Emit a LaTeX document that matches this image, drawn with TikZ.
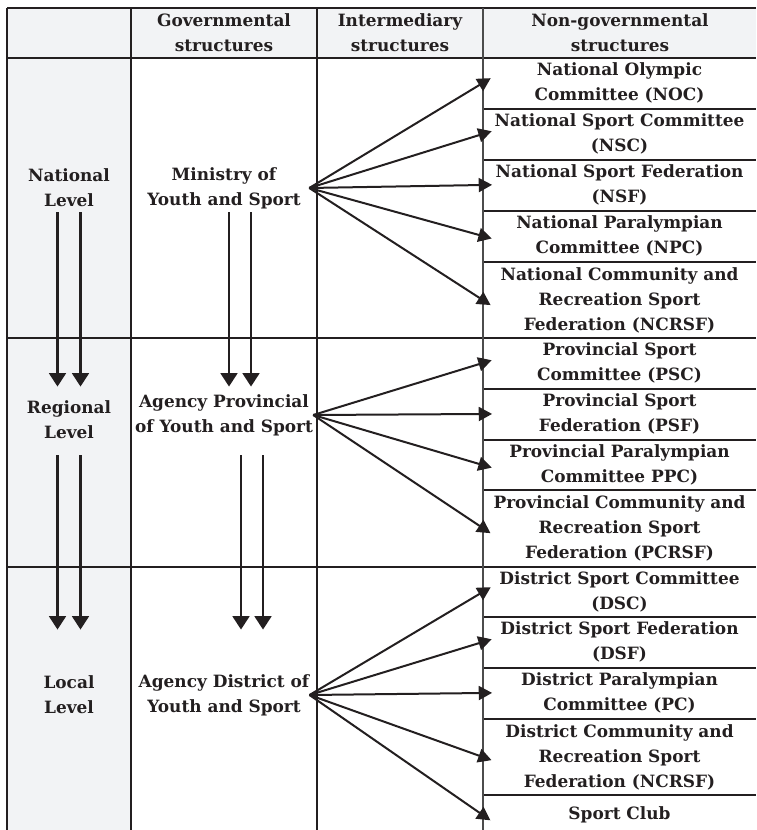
\documentclass[tikz,border=0pt]{standalone}
\usepackage{fontspec}
\setmainfont{DejaVu Serif}
\usetikzlibrary{arrows.meta,calc}
\definecolor{cellgray}{HTML}{F2F3F5}
\definecolor{ink}{HTML}{231F20}
\begin{document}
\begin{tikzpicture}[x=0.75pt, y=-0.75pt, >={Triangle[length=10pt,width=10.5pt]},
  every node/.style={font=\bfseries\fontsize{12.7}{18.75}\selectfont, text=ink, align=center, inner sep=0pt},
  lvl/.style={minimum height=34pt},
  gov/.style={minimum height=34pt, minimum width=127.5pt},
  cell/.style={minimum width=204.75pt},
  fan/.style={->, draw=ink, line width=1.5pt, shorten >=-7pt},
  down/.style={->, draw=ink, line width=1.8pt, >={Triangle[length=10pt,width=12.5pt]}}]
\useasboundingbox (0,0) rectangle (756,830);
% shading
\fill[cellgray] (7,8) rectangle (756,58);
\fill[cellgray] (7,58) rectangle (131,830);
% rules
\foreach \y in {8,58,338,567}
  \draw[ink, line width=0.8pt] (7,\y) -- (756,\y);
\foreach \y in {109,160,211,262,389,440,490,617,668,719,795}
  \draw[ink, line width=0.8pt] (483,\y) -- (756,\y);
\draw[ink, line width=0.8pt] (7,8) -- (7,830);
\draw[ink, line width=2pt] (131,8) -- (131,830);
\draw[ink, line width=1.7pt] (317,8) -- (317,830);
\draw[black!70, line width=1.7pt] (483,8) -- (483,830);
% header
\node (hgov) at (224,33) {Governmental\\structures};
\node (hint) at (400,33) {Intermediary\\structures};
\node (hnon) at (620,33) {Non-governmental\\structures};
% levels
\node[lvl] (nat) at (69,188) {National\\Level};
\node[lvl] (reg) at (69,420) {Regional\\Level};
\node[lvl] (loc) at (69,695) {Local\\Level};
% governmental structures
\node[gov] (min) at (224,188) {Ministry of\\Youth and Sport};
\node[gov] (prov) at (224,415) {Agency Provincial\\of Youth and Sport};
\node[gov] (dist) at (224,695) {Agency District of\\Youth and Sport};
% non-governmental structures
\node[cell] (noc) at (619.5,83) {National Olympic\\Committee (NOC)};
\node[cell] (nsc) at (619.5,134) {National Sport Committee\\(NSC)};
\node[cell] (nsf) at (619.5,185) {National Sport Federation\\(NSF)};
\node[cell] (npc) at (619.5,236) {National Paralympian\\Committee (NPC)};
\node[cell] (ncrsf) at (619.5,300) {National Community and\\Recreation Sport\\Federation (NCRSF)};
\node[cell] (psc) at (619.5,363) {Provincial Sport\\Committee (PSC)};
\node[cell] (psf) at (619.5,414) {Provincial Sport\\Federation (PSF)};
\node[cell] (ppc) at (619.5,465) {Provincial Paralympian\\Committee PPC)};
\node[cell] (pcrsf) at (619.5,528) {Provincial Community and\\Recreation Sport\\Federation (PCRSF)};
\node[cell] (dsc) at (619.5,592) {District Sport Committee\\(DSC)};
\node[cell] (dsf) at (619.5,642) {District Sport Federation\\(DSF)};
\node[cell] (dpc) at (619.5,693) {District Paralympian\\Committee (PC)};
\node[cell] (dcrsf) at (619.5,757) {District Community and\\Recreation Sport\\Federation (NCRSF)};
\node[cell] (club) at (619.5,815) {Sport Club};
% fans
\foreach \t in {noc,nsc,nsf,npc,ncrsf}
  \draw[fan] (min.east) -- (\t.west);
\foreach \t in {psc,psf,ppc,pcrsf}
  \draw[fan] (prov.east) -- (\t.west);
\foreach \t in {dsc,dsf,dpc,dcrsf,club}
  \draw[fan] (dist.east) -- (\t.west);
% level arrows
\foreach \dx in {-11.5,11.5} {
  \draw[down] ($(nat.south)+(\dx,1.5)$) -- ($(reg.north)+(\dx,-10.5)$);
  \draw[down] ($(reg.south)+(\dx,12.5)$) -- ($(loc.north)+(\dx,-42.5)$);
}
\foreach \dx in {5,27}
  \draw[down] ($(min.south)+(\dx,1.5)$) -- ($(prov.north)+(\dx,-5.5)$);
\foreach \dx in {17,39}
  \draw[down] ($(prov.south)+(\dx,17.5)$) -- ($(dist.north)+(\dx,-42.5)$);
\end{tikzpicture}
\end{document}
